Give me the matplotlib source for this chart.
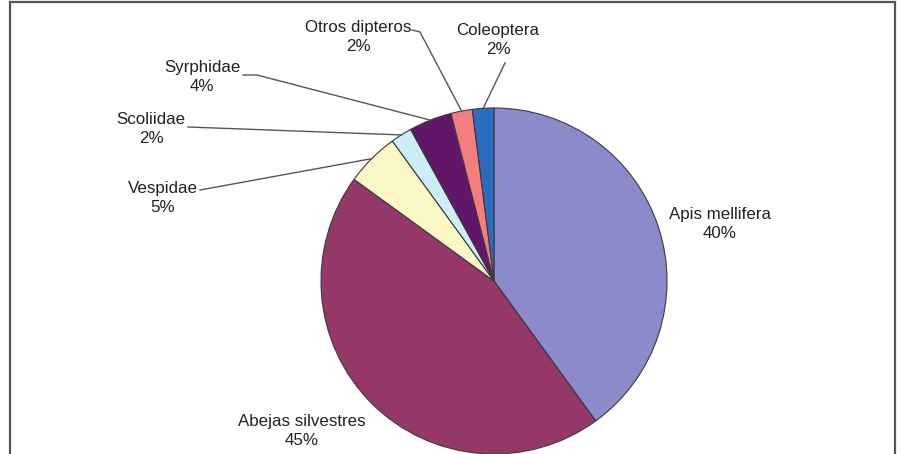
import numpy as np
import matplotlib
matplotlib.use("Agg")
import matplotlib.pyplot as plt

# Pie data (percent)
labels = ["Apis mellifera", "Abejas silvestres", "Vespidae", "Scoliidae",
          "Syrphidae", "Otros dipteros", "Coleoptera"]
values = [40, 45, 5, 2, 4, 2, 2]
colors = ["#8b8bcb", "#963769", "#fbf7c6", "#cdeef6", "#62166a", "#f47d7d", "#2c6cc0"]

W, H = 900, 454
fig = plt.figure(figsize=(9, 4.54), dpi=100)
ax = fig.add_axes([0, 0, 1, 1])
ax.set_xlim(0, W)
ax.set_ylim(0, H)
ax.axis("off")

cx, cy, r = 494, H - 281, 173
wedges, _ = ax.pie(values, colors=colors, startangle=90, counterclock=False,
                   center=(cx, cy), radius=r, frame=True,
                   wedgeprops=dict(edgecolor="#3a3a3a", linewidth=0.8))
ax.set_xlim(0, W)
ax.set_ylim(0, H)
ax.axis("off")

# label positions (pixel coords from top) and leader start points
text_pos = {
    "Apis mellifera": (720, 224),
    "Abejas silvestres": (302, 431),
    "Vespidae": (163, 198),
    "Scoliidae": (151, 129),
    "Syrphidae": (202, 77),
    "Otros dipteros": (358, 37),
    "Coleoptera": (498, 40),
}
leader = {
    "Vespidae": [(200, 190)],
    "Scoliidae": [(188, 127)],
    "Syrphidae": [(243, 75), (257, 75)],
    "Otros dipteros": [(412, 30), (420, 32)],
    "Coleoptera": [(505, 63)],
}

for w, lab, v in zip(wedges, labels, values):
    tx, ty = text_pos[lab]
    ax.text(tx, H - ty, f"{lab}\n{v}%", ha="center", va="center",
            fontsize=12.2, family="Liberation Sans", color="#222222",
            linespacing=1.35)
    if lab in leader:
        ang = np.deg2rad((w.theta1 + w.theta2) / 2)
        ex, ey = cx + r * np.cos(ang), cy + r * np.sin(ang)
        pts = [(x, H - y) for x, y in leader[lab]] + [(ex, ey)]
        xs, ys = zip(*pts)
        ax.plot(xs, ys, color="#555555", lw=1.0)

# outer frame (open at the bottom)
ax.plot([10, 10, 895, 895], [0, H - 2, H - 2, 0], color="#555555", lw=1.6,
        solid_joinstyle="miter")

fig.savefig("out.png", dpi=100)
